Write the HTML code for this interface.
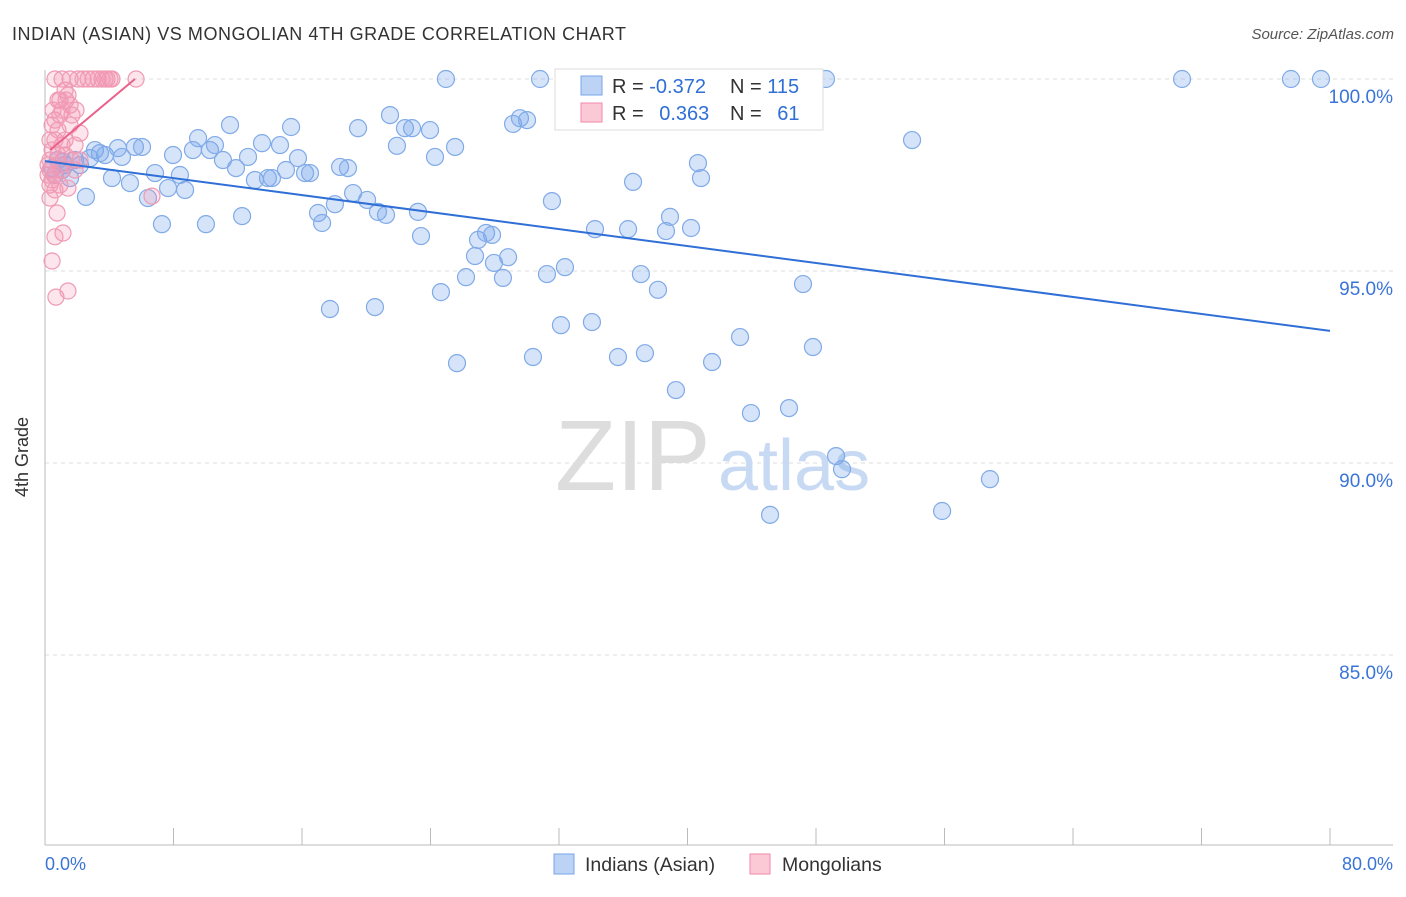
<!DOCTYPE html>
<html><head><meta charset="utf-8">
<style>
body{margin:0;background:#fff;font-family:"Liberation Sans",sans-serif;}
svg text{font-family:"Liberation Sans",sans-serif;}
</style></head>
<body>
<svg id="chart" width="1406" height="892" xmlns="http://www.w3.org/2000/svg">
<text x="12" y="40" font-size="18" fill="#333" textLength="614">INDIAN (ASIAN) VS MONGOLIAN 4TH GRADE CORRELATION CHART</text>
<text x="1394" y="39" font-size="15" fill="#555" text-anchor="end" font-style="italic">Source: ZipAtlas.com</text>
<text x="28" y="457" font-size="18" fill="#333" text-anchor="middle" transform="rotate(-90 28 457)">4th Grade</text>
<g id="grid"></g>
<g id="axes"></g>
<text x="555" y="490" font-size="100" fill="#ddd" font-family="Liberation Serif">ZIP</text>
<text x="718" y="490" font-size="72" fill="#c8daf3">atlas</text>
<g id="pts"></g>
<g id="lines"></g>
<g>
<rect x="555" y="69" width="268" height="61" fill="#fff" stroke="#ddd"/>
<rect x="581" y="76" width="21" height="19" fill="#bcd3f5" stroke="#7aa6e8"/>
<rect x="581" y="103" width="21" height="19" fill="#fbc8d6" stroke="#f08aaa"/>
<text x="612" y="93" font-size="20" fill="#333">R = <tspan fill="#2f6fd6">-0.372</tspan></text>
<text x="730" y="93" font-size="20" fill="#333">N = <tspan fill="#2f6fd6">115</tspan></text>
<text x="612" y="120" font-size="20" fill="#333">R = <tspan fill="#2f6fd6" dx="10">0.363</tspan></text>
<text x="730" y="120" font-size="20" fill="#333">N = <tspan fill="#2f6fd6" dx="10">61</tspan></text>
</g>
<g>
<rect x="554" y="854" width="20" height="20" fill="#bcd3f5" stroke="#7aa6e8"/>
<text x="585" y="871" font-size="19.5" fill="#333">Indians (Asian)</text>
<rect x="750" y="854" width="20" height="20" fill="#fbc8d6" stroke="#f08aaa"/>
<text x="782" y="871" font-size="19.5" fill="#333">Mongolians</text>
</g>
</svg>
<script>
const blueX=[0.8,1.06,1.25,1.56,1.87,2.55,3.11,3.42,3.74,4.17,4.54,4.79,5.29,5.6,6.04,6.41,6.85,7.28,7.66,7.97,8.4,8.72,9.21,9.53,10.02,10.27,10.58,11.08,11.52,11.89,12.27,12.64,13.07,13.51,13.88,14.13,14.63,15.0,15.32,15.75,16.19,16.5,17.0,17.25,17.74,18.05,18.37,18.86,19.18,19.49,20.05,20.54,20.73,21.23,21.48,21.91,22.41,22.85,23.22,23.41,23.97,24.28,24.65,24.96,25.53,25.65,26.21,26.77,26.96,27.46,27.83,27.95,28.51,28.83,29.14,29.57,30.01,30.38,30.82,31.25,31.56,32.12,32.37,34.05,34.24,35.67,36.3,36.61,37.1,37.35,38.16,38.66,38.91,39.28,40.22,40.65,40.84,41.53,43.27,43.95,46.32,47.19,47.81,48.62,49.25,49.62,45.14,53.98,55.85,58.83,70.79,77.57,79.44,0.44,0.62,1.12,2.18,2.8];
const blueY=[97.89,97.63,97.76,97.42,97.89,96.93,98.15,98.07,98.02,97.42,98.2,97.97,97.29,98.23,98.23,96.9,97.55,96.22,97.16,98.02,97.5,97.11,98.15,98.46,96.22,98.15,98.28,97.89,98.8,97.68,96.43,97.97,97.37,98.33,97.42,97.42,98.28,97.63,98.75,97.94,97.55,97.55,96.51,96.25,94.01,96.74,97.71,97.68,97.03,98.72,96.85,94.06,96.54,96.46,99.06,98.26,98.72,98.72,96.54,95.91,98.67,97.97,94.45,100,98.23,92.6,94.84,95.39,95.81,95.99,95.94,95.21,94.82,95.36,98.83,98.98,98.93,92.76,100,94.92,96.82,93.59,95.1,93.67,96.09,92.76,96.09,97.32,94.92,92.86,94.51,96.04,96.41,91.9,96.12,97.81,97.42,92.63,93.28,91.3,91.43,94.66,93.02,100,90.18,89.84,88.65,98.41,88.75,89.58,100,100,100,97.68,97.5,97.84,97.76,97.94];
const pinkX=[0.62,0.93,1.06,0.81,0.62,0.44,0.31,0.31,0.44,0.62,0.31,0.75,0.62,0.44,0.68,1.43,1.06,1.56,2.05,2.37,2.68,2.99,3.3,3.86,4.05,4.17,5.67,1.25,1.43,0.93,1.68,1.56,2.18,1.06,1.25,1.68,1.87,0.93,1.43,1.12,6.66,0.62,0.81,1.31,0.31,0.44,1.56,0.19,0.62,1.06,0.31,0.81,1.87,2.18,1.25,3.55,3.74,0.93,0.19,0.5,1.93];
const pinkY=[100,99.45,99.19,98.67,98.41,98.15,97.89,97.63,97.37,97.11,96.9,96.51,95.89,95.26,94.32,94.48,100,100,100,100,100,100,100,100,100,100,100,99.71,99.58,99.06,99.06,98.8,98.59,98.28,98.02,97.89,97.63,97.24,97.16,95.99,96.95,98.93,99.45,99.45,98.41,98.8,99.32,97.76,97.5,97.63,97.24,98.02,98.28,97.89,98.41,100,100,97.76,97.5,99.19,99.19];
const blueTrend=[[0,97.86],[80,93.44]];
const pinkTrend=[[0.31,98.15],[5.6,100]];
const yTicks=[100,95,90,85];
const yTickLabels=["100.0%","95.0%","90.0%","85.0%"];
const xTicks=[0,8,16,24,32,40,48,56,64,72,80];
const xLabels=["0.0%","80.0%"];
const NS="http://www.w3.org/2000/svg";
const sx=v=>45+v*16.0625, sy=v=>79+(100-v)*38.4;
function mk(tag,attrs,parent){const e=document.createElementNS(NS,tag);for(const k in attrs)e.setAttribute(k,attrs[k]);parent.appendChild(e);return e;}
const grid=document.getElementById('grid'),axes=document.getElementById('axes');
yTicks.forEach((t,i)=>{
 const l=mk('line',{x1:45,x2:1393,y1:sy(t),y2:sy(t),stroke:'#ddd','stroke-dasharray':'4,4'},grid);
 
 
 const tx=mk('text',{x:1393,y:sy(t)+24,'font-size':19,fill:'#3a74d6','text-anchor':'end'},axes);
 tx.textContent=yTickLabels[i];
 
 
});
mk('line',{x1:45,x2:45,y1:70,y2:845,stroke:'#bbb'},axes);
mk('line',{x1:45,x2:1393,y1:845,y2:845,stroke:'#bbb'},axes);
xTicks.forEach(t=>{const l=mk('line',{x1:sx(t),x2:sx(t),y1:828,y2:845,stroke:'#bbb'},axes);
 
 });
const xl0=mk('text',{x:45,y:870,'font-size':18,fill:'#3a74d6'},axes);xl0.textContent=xLabels[0];


const xl1=mk('text',{x:1393,y:870,'font-size':18,fill:'#3a74d6','text-anchor':'end'},axes);xl1.textContent=xLabels[1];


const pts=document.getElementById('pts');
blueX.forEach((x,i)=>{const c=mk('circle',{cx:sx(x),cy:sy(blueY[i]),r:8.5,fill:'rgba(120,165,235,0.3)',stroke:'#80aae8','stroke-width':1.2},pts);
 
 });
pinkX.forEach((x,i)=>{const c=mk('circle',{cx:sx(x),cy:sy(pinkY[i]),r:8,fill:'rgba(245,150,180,0.25)',stroke:'#f09ab4','stroke-width':1.2},pts);
 
 });
const lines=document.getElementById('lines');
const bl=mk('line',{x1:sx(blueTrend[0][0]),y1:sy(blueTrend[0][1]),x2:sx(blueTrend[1][0]),y2:sy(blueTrend[1][1]),stroke:'#2f6fd6','stroke-width':2},lines);


const pl=mk('line',{x1:sx(pinkTrend[0][0]),y1:sy(pinkTrend[0][1]),x2:sx(pinkTrend[1][0]),y2:sy(pinkTrend[1][1]),stroke:'#e8628c','stroke-width':2},lines);


</script>
</body></html>
